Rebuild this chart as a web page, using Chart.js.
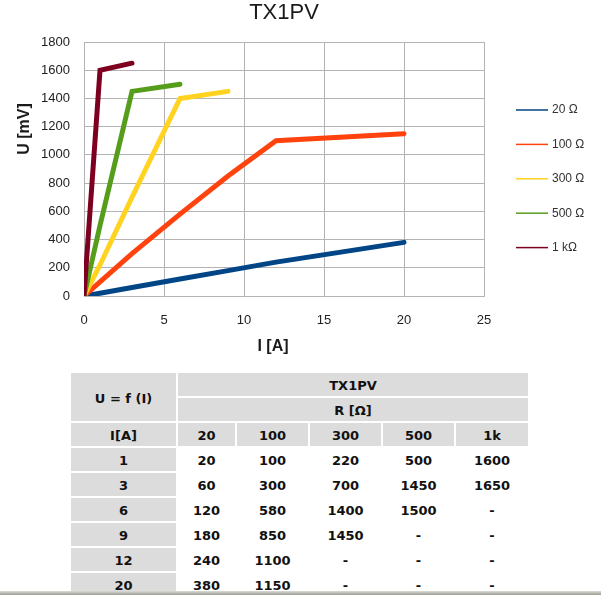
<!DOCTYPE html>
<html>
<head>
<meta charset="utf-8">
<title>TX1PV</title>
<script src="https://cdn.jsdelivr.net/npm/chart.js@4.4.1/dist/chart.umd.min.js"></script>
<style>
  html, body { margin: 0; padding: 0; background: #fff; width: 601px; height: 595px; overflow: hidden; }
  #chartBox { position: absolute; left: 0; top: 0; width: 601px; height: 360px; }
  #tbl {
    position: absolute; left: 69px; top: 371px;
    border-collapse: separate; border-spacing: 2px; table-layout: fixed; width: 461px;
    font-family: Verdana, 'DejaVu Sans', sans-serif; font-weight: bold; font-size: 13px; color: #111;
  }
  #tbl td { height: 21px; padding: 2px 0 0 0; text-align: center; vertical-align: middle; white-space: nowrap; }
  #tbl td.g { background: #dcdcdc; }
  .bar { position: fixed; left: 0; top: 591px; width: 601px; height: 4px; background: linear-gradient(#dcdcd4, #9c9c94); }
</style>
</head>
<body>
<div id="chartBox"><canvas id="chart" width="601" height="360"></canvas></div>
<table id="tbl">
  <colgroup>
    <col style="width:105px"><col style="width:57px"><col style="width:71px">
    <col style="width:71px"><col style="width:71px"><col style="width:72px">
  </colgroup>
  <tbody id="tbody"></tbody>
</table>
<div class="bar"></div>
<script>
// current I [A] (0 = common origin of every curve)
const currents = [0, 1, 3, 6, 9, 12, 20];

// U [mV] per load resistance
const u20  = [0, 20, 60, 120, 180, 240, 380];
const u100 = [0, 100, 300, 580, 850, 1100, 1150];
const u300 = [0, 220, 700, 1400, 1450, null, null];
const u500 = [0, 500, 1450, 1500, null, null, null];
const u1k  = [0, 1600, 1650, null, null, null, null];

const seriesNames = ['20 Ω', '100 Ω', '300 Ω', '500 Ω', '1 kΩ'];
const tableHeads = ['20', '100', '300', '500', '1k'];
const colors = ['#004586', '#ff420e', '#ffd320', '#579d1c', '#7e0021'];

const xTicks = [0, 5, 10, 15, 20, 25];
const yTicks = [0, 200, 400, 600, 800, 1000, 1200, 1400, 1600, 1800];

const allSeries = [u20, u100, u300, u500, u1k];

// ---- table ----
const tbody = document.getElementById('tbody');
let html = '';
html += '<tr><td class="g" rowspan="2">U = f (I)</td><td class="g" colspan="5">TX1PV</td></tr>';
html += '<tr><td class="g" colspan="5">R [Ω]</td></tr>';
html += '<tr><td class="g">I[A]</td>' + tableHeads.map(h => '<td class="g">' + h + '</td>').join('') + '</tr>';
for (let i = 1; i < currents.length; i++) {
  html += '<tr><td class="g">' + currents[i] + '</td>';
  allSeries.forEach(s => {
    html += '<td>' + (s[i] === null ? '-' : s[i]) + '</td>';
  });
  html += '</tr>';
}
tbody.innerHTML = html;

// ---- chart ----
const chartFont = "'Liberation Sans', Arial, sans-serif";

const datasets = allSeries.map((vals, k) => ({
  label: seriesNames[k],
  data: currents.map((x, i) => ({ x: x, y: vals[i] })).filter(p => p.y !== null),
  borderColor: colors[k],
  backgroundColor: colors[k],
  borderWidth: 5,
  borderCapStyle: 'round',
  pointRadius: 0,
  tension: 0,
  order: allSeries.length - k
}));

// axis titles + legend drawn on the canvas
const extras = {
  id: 'extras',
  afterDraw(chart) {
    const ctx = chart.ctx;
    ctx.save();
    ctx.fillStyle = '#1a1a1a';
    ctx.font = 'bold 16px ' + chartFont;
    ctx.textAlign = 'center';
    ctx.textBaseline = 'middle';
    ctx.fillText('I [A]', 273, 347);
    ctx.translate(25, 129);
    ctx.rotate(-Math.PI / 2);
    ctx.fillText('U [mV]', 0, 0);
    ctx.restore();

    ctx.save();
    ctx.font = '12px ' + chartFont;
    ctx.textAlign = 'left';
    ctx.textBaseline = 'middle';
    chart.data.datasets.forEach((ds, i) => {
      const y = 110 + i * 34.4;
      ctx.strokeStyle = ds.borderColor;
      ctx.lineWidth = 1.5;
      ctx.beginPath();
      ctx.moveTo(516, y);
      ctx.lineTo(548, y);
      ctx.stroke();
      ctx.fillStyle = '#333';
      ctx.fillText(ds.label, 552, y);
    });
    ctx.restore();
  }
};

new Chart(document.getElementById('chart').getContext('2d'), {
  type: 'line',
  data: { datasets },
  options: {
    responsive: false,
    animation: false,
    devicePixelRatio: 1,
    layout: { padding: { left: 0, right: 117, top: 0, bottom: 0 } },
    plugins: {
      legend: { display: false },
      tooltip: { enabled: false },
      title: {
        display: true,
        text: 'TX1PV',
        fullSize: false,
        color: '#1a1a1a',
        font: { family: chartFont, size: 22, weight: 'normal', lineHeight: 1.2 },
        padding: { top: 0, bottom: 15.6 }
      }
    },
    scales: {
      x: {
        type: 'linear',
        min: xTicks[0],
        max: xTicks[xTicks.length - 1],
        afterBuildTicks: s => { s.ticks = xTicks.map(v => ({ value: v })); },
        afterFit: s => { s.height = 64; },
        ticks: { color: '#222', padding: 17, font: { family: chartFont, size: 13 }, callback: v => String(v) },
        grid: { color: '#b3b3b3', drawTicks: false },
        border: { color: '#b3b3b3' }
      },
      y: {
        type: 'linear',
        min: yTicks[0],
        max: yTicks[yTicks.length - 1],
        afterBuildTicks: s => { s.ticks = yTicks.map(v => ({ value: v })); },
        afterFit: s => { s.width = 84; },
        ticks: { color: '#222', padding: 14, font: { family: chartFont, size: 13 }, callback: v => String(v) },
        grid: { color: '#b3b3b3', drawTicks: false },
        border: { color: '#b3b3b3' }
      }
    }
  },
  plugins: [extras]
});
</script>
</body>
</html>
